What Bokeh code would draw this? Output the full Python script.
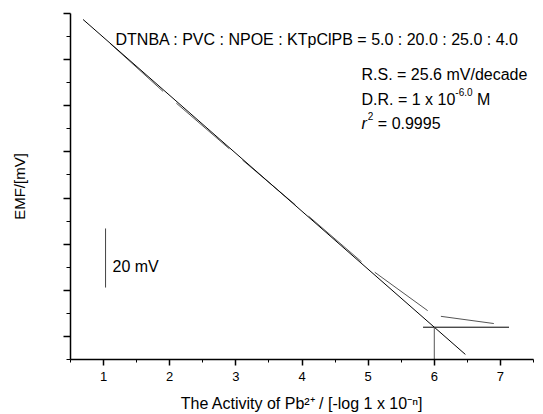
from bokeh.plotting import figure
from bokeh.models import Range1d, FixedTicker, Label
from bokeh.embed import file_html
from bokeh.resources import INLINE

# ---- data (EMF in mV, x = -log a(Pb2+)) ----
activity = [1, 2, 3, 4, 5, 6, 7]
emf = [139.6, 113.6, 88.9, 64.6, 39.9, 19.1, 15.2]
fit_x = [0.69, 6.47]
fit_y = [147.4, 2.2]
dr_x = 6.0
base_x = [5.83, 7.13]
base_y = 14.0
bar_x = 1.03
bar_y = [31.2, 56.8]
x_ticks = [1, 2, 3, 4, 5, 6, 7]
x_minor = [0.5, 1.5, 2.5, 3.5, 4.5, 5.5, 6.5, 7.5]
y_ticks = [10, 30, 50, 70, 90, 110, 130, 150]
y_minor = [0, 20, 40, 60, 80, 100, 120, 140]

FONT = "Liberation Sans"

p = figure(width=543, height=414, output_backend="svg", toolbar_location=None,
           x_range=Range1d(0.5, 7.5), y_range=Range1d(0, 150),
           min_border_left=70, min_border_right=10, min_border_top=13, min_border_bottom=55)
p.outline_line_color = None
p.xgrid.visible = False
p.ygrid.visible = False
p.background_fill_color = "white"

for ax in (p.xaxis, p.yaxis):
    ax.axis_line_width = 1.5
    ax.axis_line_color = "black"
    ax.major_tick_line_width = 1.5
    ax.minor_tick_line_width = 1
    ax.major_tick_in = 0
    ax.minor_tick_in = 0
    ax.major_label_text_font = FONT
    ax.major_label_text_color = "black"
    ax.axis_label_text_font = FONT
    ax.axis_label_text_font_style = "normal"
    ax.axis_label_text_color = "black"

p.xaxis.ticker = FixedTicker(ticks=x_ticks, minor_ticks=x_minor)
p.xaxis.major_tick_out = 6
p.xaxis.minor_tick_out = 3
p.xaxis.major_label_standoff = 6
p.xaxis.major_label_text_font_size = "13px"
p.xaxis.axis_label = "The Activity of Pb\u00b2\u207a / [-log 1 x 10\u207b\u207f]"
p.xaxis.axis_label_text_font_size = "16px"
p.xaxis.axis_label_standoff = 11

p.yaxis.ticker = FixedTicker(ticks=y_ticks, minor_ticks=y_minor)
p.yaxis.major_tick_out = 7
p.yaxis.minor_tick_out = 4
p.yaxis.major_label_overrides = {t: "" for t in y_ticks}
p.yaxis.major_label_text_font_size = "13px"
p.yaxis.major_label_standoff = 0
p.yaxis.axis_label = "EMF/[mV]"
p.yaxis.axis_label_text_font_size = "15px"
p.yaxis.axis_label_standoff = 36

# ---- data line drawn as segments with small gaps at the points ----
g = 0.1
sx0, sy0, sx1, sy1 = [], [], [], []
for i in range(len(activity) - 1):
    xa, xb = activity[i], activity[i + 1]
    ya, yb = emf[i], emf[i + 1]
    sx0.append(xa + g * (xb - xa)); sy0.append(ya + g * (yb - ya))
    sx1.append(xb - g * (xb - xa)); sy1.append(yb - g * (yb - ya))
p.segment(sx0, sy0, sx1, sy1, line_color="#555555", line_width=1)

# fit line
p.line(fit_x, fit_y, line_color="black", line_width=1)
# detection-limit construction lines
p.line(base_x, [base_y, base_y], line_color="black", line_width=1)
p.line([dr_x, dr_x], [0, base_y], line_color="#555555", line_width=1)
# scale bar
p.line([bar_x, bar_x], bar_y, line_color="#444444", line_width=1)

# ---- text helpers (pixel positions converted into data coords) ----
def dx(px):
    return 0.5 + (px - 70) / (463 / 7)

def dy(py):
    return (359 - py) * 150 / 346

W = {' ': .278, '.': .278, ':': .278, '=': .584, '/': .278, '[': .278, ']': .278,
     '-': .333, '+': .584, 'x': .5, 'm': .833, 'V': .667, 'M': .833, 'D': .722,
     'R': .722, 'S': .667, 'r': .333}

def tw(s, size):
    return sum(W.get(ch, .556) for ch in s) * size

def txt(s, px, py, size, style="normal"):
    p.add_layout(Label(x=dx(px), y=dy(py), text=s, text_font=FONT,
                       text_font_size=f"{size}px", text_font_style=style,
                       text_align="left", text_baseline="alphabetic",
                       text_color="black"))

BIG, SUP = 16, 10
SP = tw(" ", BIG)

txt("DTNBA : PVC : NPOE : KTpClPB = 5.0 : 20.0 : 25.0 : 4.0", 115, 39, BIG)
txt("R.S. = 25.6 mV/decade", 361, 74, BIG)

s1 = "D.R. = 1 x 10"
txt(s1, 361, 99, BIG)
x_sup = 361 + tw(s1, BIG)
txt("-6.0", x_sup, 91, SUP)
txt("M", x_sup + tw("-6.0", SUP) + SP, 99, BIG)

txt("r", 361, 123, BIG, style="italic")
x_sup = 361 + tw("r", BIG) + 1
txt("2", x_sup, 115, SUP)
txt("= 0.9995", x_sup + tw("2", SUP) + SP, 123, BIG)

txt("20 mV", 112, 266, BIG)

open("out.html", "w").write(file_html(p, INLINE))
